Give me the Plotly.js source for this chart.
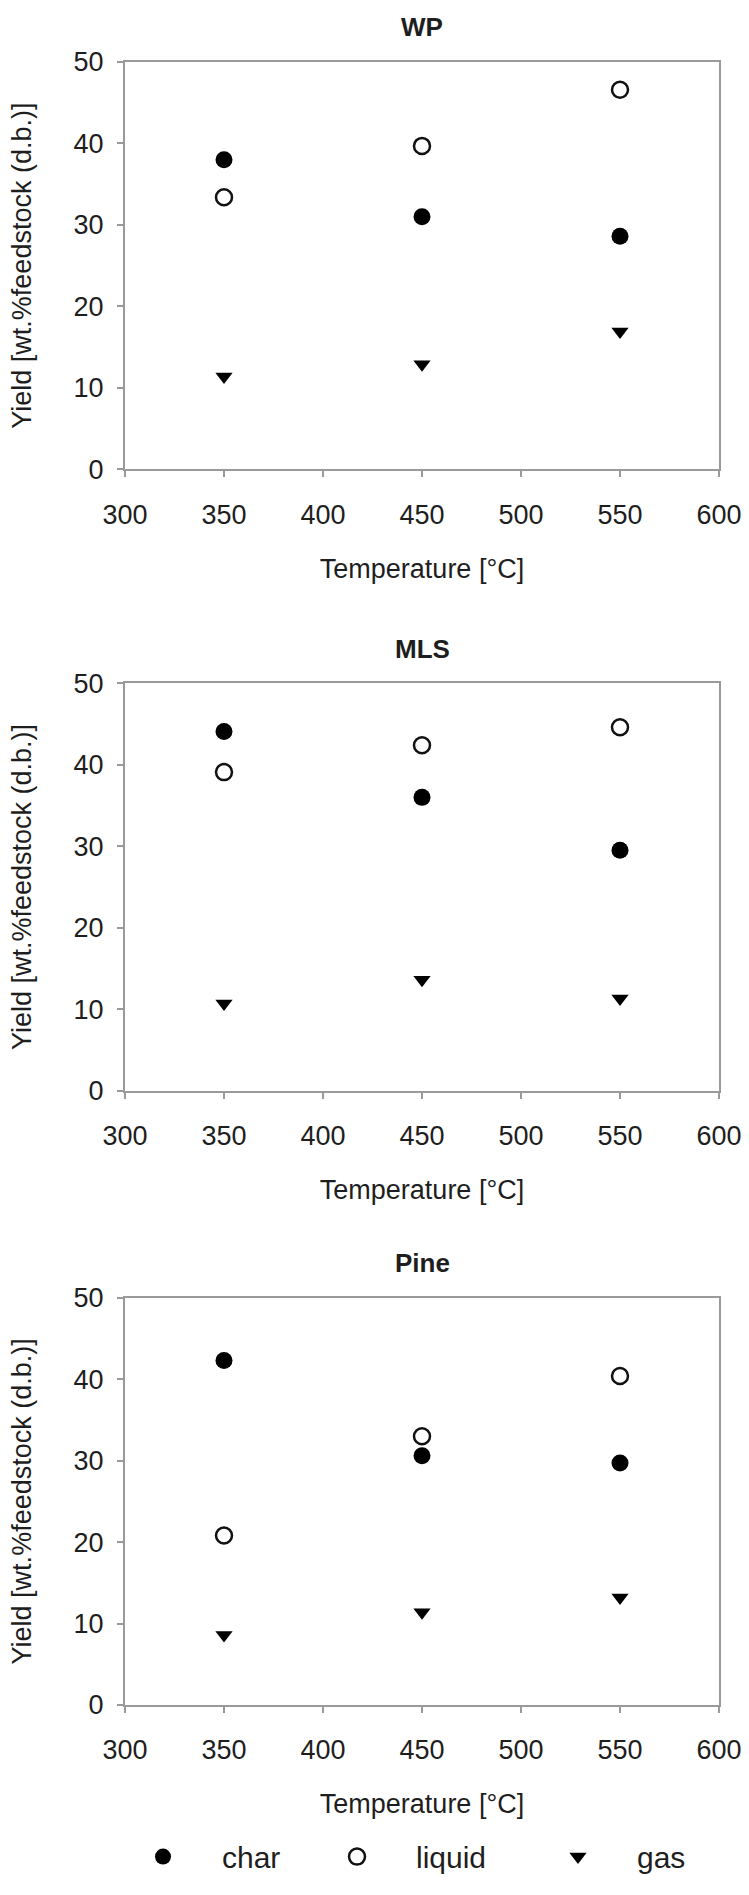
<!DOCTYPE html>
<html>
<head>
<meta charset="utf-8">
<script src="https://cdn.plot.ly/plotly-3.0.1.min.js"></script>
<style>
  html, body { margin: 0; padding: 0; background: #ffffff; }
  #chart { width: 749px; height: 1895px; }
</style>
</head>
<body>
<div id="chart"></div>
<script>
// ---- data ----
const temperatures = [350, 450, 550];
const panelNames = ['WP', 'MLS', 'Pine'];
const seriesNames = ['char', 'liquid', 'gas'];

const wpChar   = [38.0, 31.0, 28.6];
const wpLiquid = [33.4, 39.7, 46.6];
const wpGas    = [11.4, 12.9, 16.9];

const mlsChar   = [44.1, 36.0, 29.5];
const mlsLiquid = [39.1, 42.4, 44.6];
const mlsGas    = [10.7, 13.6, 11.3];

const pineChar   = [42.3, 30.6, 29.7];
const pineLiquid = [20.8, 33.0, 40.4];
const pineGas    = [8.6, 11.4, 13.2];

const xTickVals = [300, 350, 400, 450, 500, 550, 600];
const yTickVals = [0, 10, 20, 30, 40, 50];

// ---- styles ----
const FONT = 'Liberation Sans, Arial, Helvetica, sans-serif';
const TXT = '#1e1e1e';
const AX = '#9a9a9a';

const panelData = [
  [wpChar, wpLiquid, wpGas],
  [mlsChar, mlsLiquid, mlsGas],
  [pineChar, pineLiquid, pineGas]
];

const markerStyles = [
  {symbol: 'circle', size: 17, color: '#000000', line: {width: 0}},
  {symbol: 'circle-open', size: 16, color: '#111111', line: {width: 2.5, color: '#111111'}},
  {symbol: 'triangle-down', size: 15, color: '#000000', line: {width: 0}}
];
const legendIds = ['legend', 'legend2', 'legend3'];

const traces = [];
panelData.forEach((series, p) => {
  series.forEach((vals, s) => {
    traces.push({
      type: 'scatter',
      mode: 'markers',
      x: temperatures,
      y: vals,
      name: seriesNames[s],
      xaxis: p === 0 ? 'x' : 'x' + (p + 1),
      yaxis: p === 0 ? 'y' : 'y' + (p + 1),
      marker: markerStyles[s],
      showlegend: p === 0,
      legend: legendIds[s],
      legendgroup: seriesNames[s],
      cliponaxis: false,
      hoverinfo: 'x+y+name'
    });
  });
});

// plot area: x 125..719, y 62..1720 (pixels)
const yDomains = [[0.75211, 1.0], [0.37394, 0.62183], [0.0, 0.24789]];

function xAxis(anchor) {
  return {
    domain: [0, 1], anchor: anchor,
    range: [300, 600], tickvals: xTickVals, ticktext: xTickVals.map(String),
    ticks: 'outside', ticklen: 6, tickwidth: 2, tickcolor: AX,
    showline: true, linecolor: AX, linewidth: 2, mirror: true,
    showgrid: false, zeroline: false,
    tickfont: {family: FONT, size: 27, color: TXT},
    ticklabelstandoff: 14,
    title: {text: 'Temperature [°C]', font: {family: FONT, size: 27, color: TXT}, standoff: 30},
    fixedrange: true
  };
}
function yAxis(anchor, dom) {
  return {
    domain: dom, anchor: anchor,
    range: [0, 50], tickvals: yTickVals, ticktext: yTickVals.map(String),
    ticks: 'outside', ticklen: 6, tickwidth: 2, tickcolor: AX,
    showline: true, linecolor: AX, linewidth: 2, mirror: true,
    showgrid: false, zeroline: false,
    tickfont: {family: FONT, size: 27, color: TXT},
    ticklabelstandoff: 8,
    title: {text: 'Yield [wt.%feedstock (d.b.)]', font: {family: FONT, size: 27, color: TXT}, standoff: 34},
    fixedrange: true
  };
}

function legendAt(xp) {
  return {
    x: xp, y: -0.09228, xanchor: 'left', yanchor: 'middle',
    orientation: 'h', bgcolor: 'rgba(0,0,0,0)', borderwidth: 0,
    itemwidth: 108, font: {family: FONT, size: 30, color: TXT},
    itemclick: false, itemdoubleclick: false
  };
}

const layout = {
  width: 749, height: 1895,
  margin: {l: 125, r: 30, t: 62, b: 175, pad: 0},
  paper_bgcolor: '#ffffff', plot_bgcolor: '#ffffff',
  font: {family: FONT, color: TXT},
  xaxis: xAxis('y'), yaxis: yAxis('x', yDomains[0]),
  xaxis2: xAxis('y2'), yaxis2: yAxis('x2', yDomains[1]),
  xaxis3: xAxis('y3'), yaxis3: yAxis('x3', yDomains[2]),
  legend: legendAt(-0.03535),
  legend2: legendAt(0.29125),
  legend3: legendAt(0.66330),
  annotations: [
    {text: '<b>' + panelNames[0] + '</b>', x: 0.5, y: 1.02111},
    {text: '<b>' + panelNames[1] + '</b>', x: 0.5, y: 0.64294},
    {text: '<b>' + panelNames[2] + '</b>', x: 0.5, y: 0.26900}
  ].map(a => Object.assign(a, {
    xref: 'paper', yref: 'paper', xanchor: 'center', yanchor: 'middle',
    showarrow: false, font: {family: FONT, size: 26, color: TXT}
  }))
};

Plotly.newPlot('chart', traces, layout, {staticPlot: true, displayModeBar: false});
</script>
</body>
</html>
